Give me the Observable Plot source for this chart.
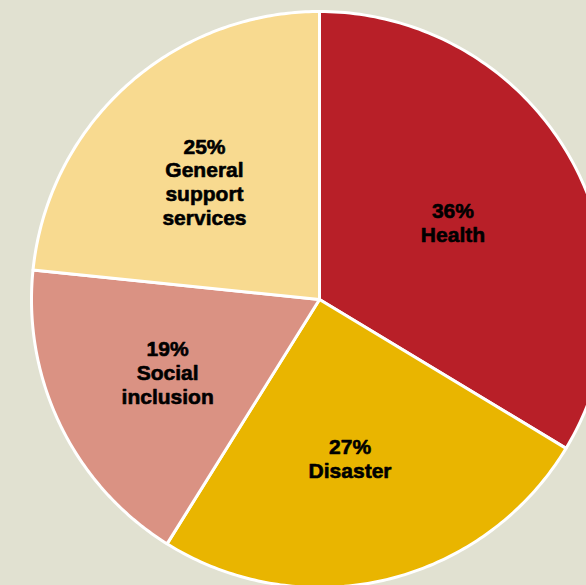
<!DOCTYPE html>
<html>
<head>
<meta charset="utf-8">
<script src="https://cdn.jsdelivr.net/npm/d3@7"></script>
<script src="https://cdn.jsdelivr.net/npm/@observablehq/plot@0.6"></script>
<style>
  html, body { margin: 0; padding: 0; background: #e1e1d1; overflow: hidden; }
  #chart svg { overflow: hidden; display: block; }
</style>
</head>
<body>
<div id="chart"></div>
<script>
const categories = ["Health", "Disaster", "Social\ninclusion", "General\nsupport\nservices"];
const values = [36, 27, 19, 25];
const colors = ["#b81f28", "#e9b500", "#da9283", "#f8da90"];

const pie = d3.pie().sort(null).value(d => d)(values);

// polygon points for each slice
const pts = [];
pie.forEach((p, i) => {
  const n = 120;
  pts.push({k: i, x: 0, y: 0});
  for (let j = 0; j <= n; j++) {
    const a = p.startAngle + (p.endAngle - p.startAngle) * j / n;
    pts.push({k: i, x: Math.sin(a), y: Math.cos(a)});
  }
});

const labelR = 0.56;
const labels = pie.map((p, i) => {
  const a = (p.startAngle + p.endAngle) / 2;
  return {x: labelR * Math.sin(a), y: labelR * Math.cos(a), text: `${values[i]}%\n${categories[i]}`};
});

const cx = 319, cy = 299, R = 288;
const chart = Plot.plot({
  width: 586,
  height: 585,
  margin: 0,
  style: {background: "#e1e1d1", overflow: "hidden"},
  x: {domain: [-1, 1], range: [cx - R, cx + R], axis: null},
  y: {domain: [-1, 1], range: [cy + R, cy - R], axis: null},
  color: {domain: [0, 1, 2, 3], range: colors},
  marks: [
    Plot.line(pts, {x: "x", y: "y", z: "k", fill: "k", stroke: "white", strokeWidth: 3, curve: "linear-closed", strokeLinejoin: "round"}),
    Plot.text(labels, {x: "x", y: "y", text: "text", dx: -7, dy: 2, fontSize: 21, fontWeight: "bold", fontFamily: "Liberation Sans", fill: "black", stroke: "black", strokeWidth: 0.6, lineHeight: 1.14, lineAnchor: "middle"})
  ]
});
document.getElementById("chart").appendChild(chart);
</script>
</body>
</html>
